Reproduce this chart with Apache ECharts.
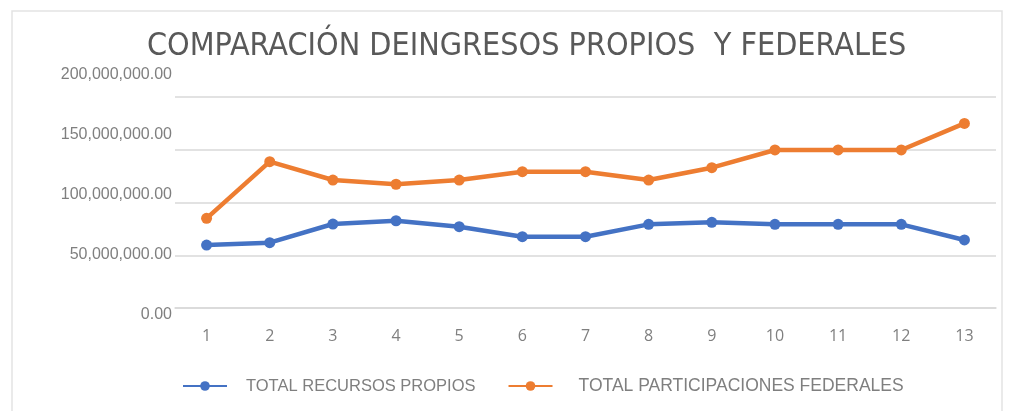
<!DOCTYPE html>
<html>
<head>
<meta charset="utf-8">
<script src="https://cdn.jsdelivr.net/npm/echarts@6/dist/echarts.min.js"></script>
<style>html,body{margin:0;padding:0;background:#fff}#chart{width:1010px;height:411px}</style>
</head>
<body>
<div id="chart"></div>
<script>
// periodos 1..13
const periodos = ['1','2','3','4','5','6','7','8','9','10','11','12','13'];
const recursosPropios = [59.7e6, 61.9e6, 79.6e6, 82.7e6, 77.1e6, 67.6e6, 67.6e6, 79.3e6, 81.2e6, 79.3e6, 79.3e6, 79.3e6, 64.5e6];
const participacionesFederales = [85.0e6, 138.7e6, 121.3e6, 117.3e6, 121.3e6, 129.2e6, 129.2e6, 121.3e6, 133.0e6, 149.8e6, 149.8e6, 149.8e6, 175.0e6];

const gray = '#7f7f7f';
const fmt = v => v.toLocaleString('en-US', {minimumFractionDigits: 2, maximumFractionDigits: 2});

const chart = echarts.init(document.getElementById('chart'));
chart.setOption({
  animation: false,
  backgroundColor: '#fff',
  graphic: [{ type: 'rect', shape: { x: 12, y: 11, width: 990, height: 420 },
    style: { fill: 'none', stroke: '#e3e3e3', lineWidth: 1.5 }, silent: true }],
  title: {
    text: 'COMPARACIÓN DEINGRESOS PROPIOS  Y FEDERALES',
    left: 142, top: 26,
    textStyle: { fontFamily: '"Liberation Sans Narrow", "DejaVu Sans Condensed", "Liberation Sans"', fontSize: 32, fontWeight: 'normal', color: '#595959' }
  },
  legend: {
    left: 177, top: 372, itemWidth: 44, itemHeight: 12, itemGap: 32,
    textStyle: { color: gray, fontSize: 16, fontFamily: '"Liberation Sans", sans-serif', padding: [0, 0, 0, 14] },
    data: [
      { name: 'TOTAL RECURSOS PROPIOS', textStyle: { fontSize: 16.5 } },
      { name: 'TOTAL PARTICIPACIONES FEDERALES', textStyle: { fontSize: 17.5, padding: [0, 0, 0, 21] } }
    ]
  },
  grid: [
    { left: 175, right: 14, top: 97, bottom: 103 },
    { left: 175, right: 14, top: 75, bottom: 96 }
  ],
  xAxis: [
    { type: 'category', data: periodos, gridIndex: 0,
      axisLine: { show: true, lineStyle: { color: '#d9d9d9', width: 1.5 } }, axisTick: { show: false },
      axisLabel: { color: gray, fontSize: 16, margin: 20, fontFamily: '"Open Sans", sans-serif' } },
    { type: 'category', data: periodos, gridIndex: 1, show: false }
  ],
  yAxis: [
    { type: 'value', gridIndex: 0, min: 0, max: 200e6, interval: 50e6,
      axisLabel: { show: false },
      splitLine: { lineStyle: { color: '#d9d9d9', width: 1.5 } } },
    // etiquetas del eje (desalineadas como en el original)
    { type: 'value', gridIndex: 1, min: 0, max: 200e6, interval: 50e6,
      splitLine: { show: false }, axisLine: { show: false },
      axisLabel: { color: gray, fontSize: 16, margin: 3, formatter: fmt, fontFamily: '"Liberation Sans", sans-serif' } }
  ],
  series: [
    { name: 'TOTAL RECURSOS PROPIOS', type: 'line', data: recursosPropios,
      symbol: 'circle', symbolSize: 11, color: '#4472C4',
      lineStyle: { width: 4.5 } },
    { name: 'TOTAL PARTICIPACIONES FEDERALES', type: 'line', data: participacionesFederales,
      symbol: 'circle', symbolSize: 11, color: '#ED7D31',
      lineStyle: { width: 4.5 } }
  ]
});
</script>
</body>
</html>
